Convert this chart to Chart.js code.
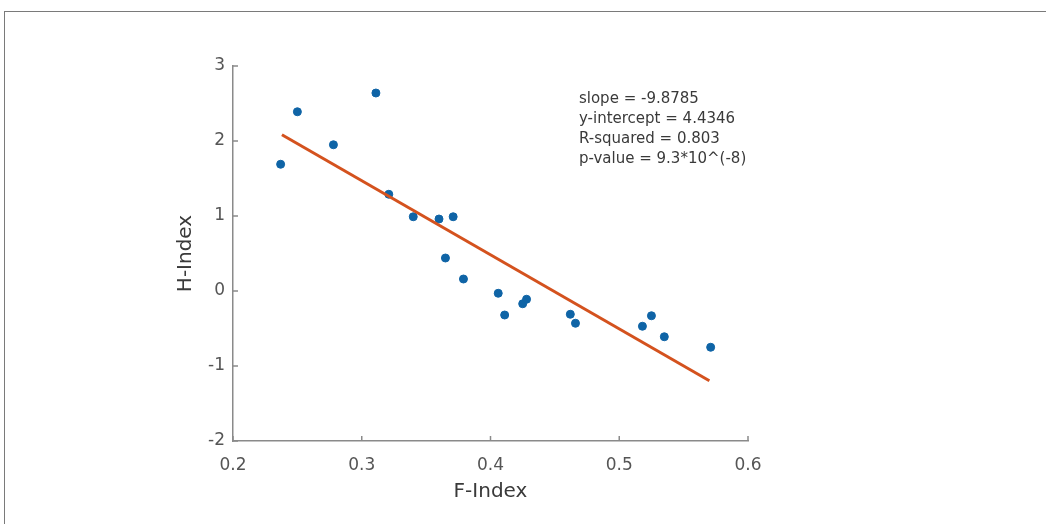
<!DOCTYPE html>
<html>
<head>
<meta charset="utf-8">
<script src="https://cdn.jsdelivr.net/npm/chart.js@4.4.1/dist/chart.umd.min.js"></script>
<style>
  html, body { margin: 0; padding: 0; background: #fff; overflow: hidden; }
  #frame { position: absolute; left: 4px; top: 11px; width: 1100px; height: 600px;
           border-top: 1px solid #7a7a7a; border-left: 1px solid #7a7a7a; }
  #wrap { position: absolute; left: 0; top: 0; width: 1046px; height: 524px; }
</style>
</head>
<body>
<div id="frame"></div>
<div id="wrap"><canvas id="grafica" width="1046" height="524"></canvas></div>
<script>
// values
const fIndex = [0.237, 0.250, 0.278, 0.311, 0.321, 0.340, 0.360, 0.371, 0.365, 0.379,
                0.406, 0.411, 0.425, 0.428, 0.462, 0.466, 0.518, 0.525, 0.535, 0.571];
const hIndex = [1.69, 2.39, 1.95, 2.64, 1.29, 0.99, 0.96, 0.99, 0.44, 0.16,
                -0.03, -0.32, -0.17, -0.11, -0.31, -0.43, -0.47, -0.33, -0.61, -0.75];
const fitX = [0.238, 0.570];
const fitY = [2.083, -1.196];
const xTicks = [0.2, 0.3, 0.4, 0.5, 0.6];
const yTicks = [-2, -1, 0, 1, 2, 3];
const statsLines = ['slope = -9.8785', 'y-intercept = 4.4346', 'R-squared = 0.803', 'p-value = 9.3*10^(-8)'];

const font = 'DejaVu Sans, Verdana, sans-serif';

// matlab style ticks pointing into the plot + the stats text
const extras = {
    id: 'extras',
    afterDraw(chart) {
        const ctx = chart.ctx;
        const x = chart.scales.x, y = chart.scales.y;
        const a = chart.chartArea;
        ctx.save();
        ctx.strokeStyle = '#8a8a8a';
        ctx.lineWidth = 1.5;
        xTicks.forEach(v => {
            const px = x.getPixelForValue(v);
            ctx.beginPath(); ctx.moveTo(px, a.bottom); ctx.lineTo(px, a.bottom - 5); ctx.stroke();
        });
        yTicks.forEach(v => {
            const py = y.getPixelForValue(v);
            ctx.beginPath(); ctx.moveTo(a.left, py); ctx.lineTo(a.left + 5, py); ctx.stroke();
        });
        ctx.fillStyle = '#3a3a3a';
        ctx.font = '15px ' + font;
        ctx.textBaseline = 'middle';
        ctx.textAlign = 'left';
        const tx = x.getPixelForValue(0.4687);
        const ty = y.getPixelForValue(2.56);
        statsLines.forEach((s, i) => ctx.fillText(s, tx, ty + i * 20));
        ctx.restore();
    }
};

const ctx = document.getElementById('grafica').getContext('2d');
const myChart = new Chart(ctx, {
    type: 'scatter',
    data: {
        datasets: [{
            label: 'data',
            data: fIndex.map((f, i) => ({x: f, y: hIndex[i]})),
            backgroundColor: '#0f64a6',
            borderColor: '#0f64a6',
            pointRadius: 4,
            order: 2
        }, {
            type: 'line',
            label: 'fit',
            data: fitX.map((f, i) => ({x: f, y: fitY[i]})),
            borderColor: '#d4521e',
            borderWidth: 3,
            pointRadius: 0,
            fill: false,
            order: 1
        }]
    },
    options: {
        responsive: false,
        animation: false,
        layout: { padding: { left: 174, top: 66, right: 298, bottom: 20 } },
        scales: {
            x: {
                type: 'linear',
                min: 0.2, max: 0.6,
                afterBuildTicks: s => { s.ticks = xTicks.map(v => ({value: v})); },
                afterFit: s => { s.height = 63; },
                ticks: { color: '#555', font: { family: font, size: 17 }, padding: 14,
                         callback: v => v.toFixed(1) },
                grid: { display: false, drawTicks: false },
                border: { display: true, color: '#8a8a8a', width: 1.5 },
                title: { display: true, text: 'F-Index', color: '#3a3a3a',
                         font: { family: font, size: 20 }, padding: 0 }
            },
            y: {
                min: -2, max: 3,
                afterBuildTicks: s => { s.ticks = yTicks.map(v => ({value: v})); },
                afterFit: s => { s.width = 59; },
                ticks: { color: '#555', font: { family: font, size: 17 }, padding: 8 },
                grid: { display: false, drawTicks: false },
                border: { display: true, color: '#8a8a8a', width: 1.5 },
                title: { display: true, text: 'H-Index', color: '#3a3a3a',
                         font: { family: font, size: 20 }, padding: 0 }
            }
        },
        plugins: {
            legend: { display: false },
            tooltip: { enabled: false }
        }
    },
    plugins: [extras]
});
</script>
</body>
</html>
